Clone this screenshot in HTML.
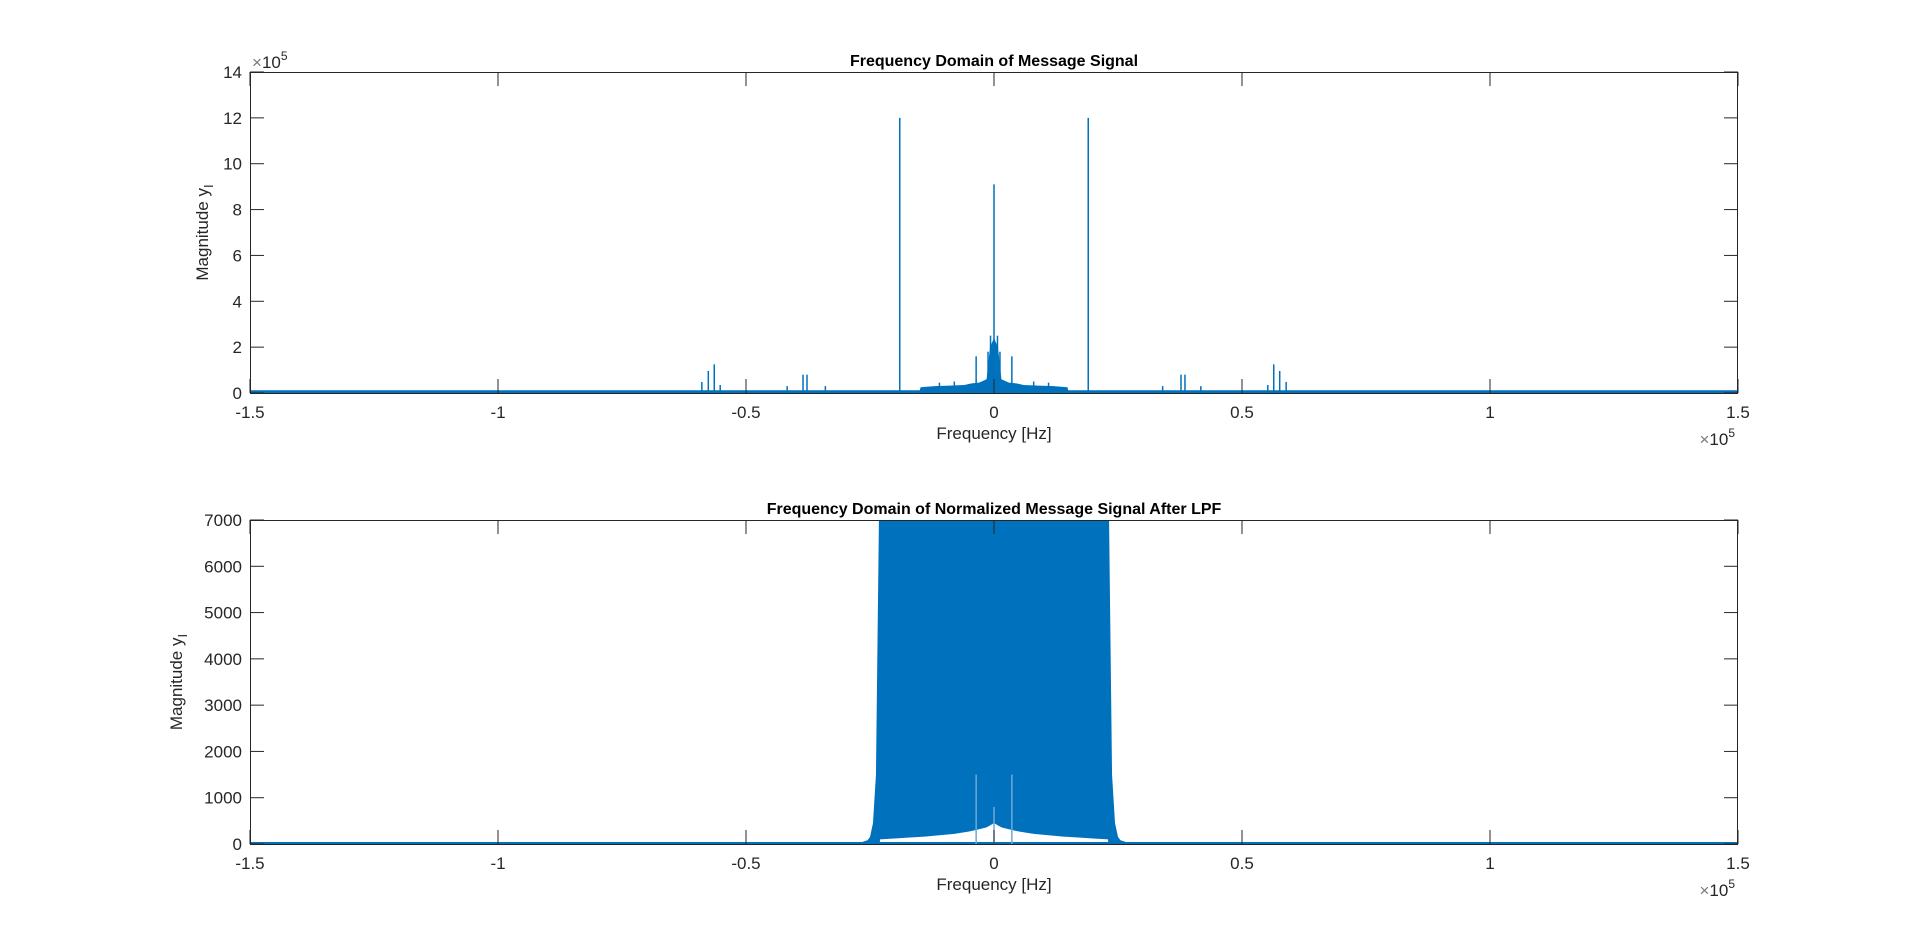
<!DOCTYPE html>
<html><head><meta charset="utf-8"><style>
html,body{margin:0;padding:0;background:#fff;}
svg{display:block;font-family:"Liberation Sans",Arial,sans-serif;}
</style></head><body>
<svg id="fig" width="1920" height="948" viewBox="0 0 1920 948"></svg>
<script>
// ---- data: top plot (Message signal spectrum) ----
const xTickVals = [-1.5, -1, -0.5, 0, 0.5, 1, 1.5];
const xTickLabels = ["-1.5", "-1", "-0.5", "0", "0.5", "1", "1.5"];
const topYTickVals = [0, 2, 4, 6, 8, 10, 12, 14];
const topYTickLabels = ["0", "2", "4", "6", "8", "10", "12", "14"];
const peakFreqs = [-19000, 19000, 0, -3600, 3600, -58900, -57600, -56400, -55200, 55200, 56400, 57600, 58900, -38500, -37700, 37700, 38500, -41700, -34000, 34000, 41700, -700, 700, -1200, 1200, -8000, 8000, -11000, 11000];
const peakMags = [12.0e5, 12.0e5, 9.1e5, 1.6e5, 1.6e5, 0.48e5, 0.96e5, 1.25e5, 0.35e5, 0.35e5, 1.25e5, 0.96e5, 0.48e5, 0.8e5, 0.8e5, 0.8e5, 0.8e5, 0.3e5, 0.3e5, 0.3e5, 0.3e5, 2.5e5, 2.5e5, 1.8e5, 1.8e5, 0.5e5, 0.5e5, 0.45e5, 0.45e5];
const humpFreqs = [-15000, -14800, -12000, -9000, -6000, -4500, -3000, -1500, -800, 0, 800, 1500, 3000, 4500, 6000, 9000, 12000, 14800, 15000];
const humpMags = [0.1e5, 0.25e5, 0.3e5, 0.32e5, 0.35e5, 0.42e5, 0.45e5, 0.6e5, 2.0e5, 2.4e5, 2.0e5, 0.6e5, 0.45e5, 0.42e5, 0.35e5, 0.32e5, 0.3e5, 0.25e5, 0.1e5];
const noiseFloor = 0.12e5;
// ---- data: bottom plot (after LPF) ----
const botYTickVals = [0, 1000, 2000, 3000, 4000, 5000, 6000, 7000];
const botYTickLabels = ["0", "1000", "2000", "3000", "4000", "5000", "6000", "7000"];
const skirtFreqs = [-30000, -27000, -25500, -25000, -24400, -23800, -23200, 23200, 23800, 24400, 25000, 25500, 27000, 30000];
const skirtMags = [0, 30, 80, 150, 450, 1500, 7000, 7000, 1500, 450, 150, 80, 30, 0];
const lowFreqs = [-23000, -20000, -17000, -14000, -11000, -8000, -5000, -3000, -1500, 0, 1500, 3000, 5000, 8000, 11000, 14000, 17000, 20000, 23000];
const lowMags = [100, 120, 140, 160, 190, 220, 270, 320, 360, 450, 360, 320, 270, 220, 190, 160, 140, 120, 100];
const lowSpikeFreqs = [-3600, 3600, 0];
const lowSpikeMags = [1500, 1500, 800];

const NS = "http://www.w3.org/2000/svg";
const svg = document.getElementById("fig");
const BLUE = "#0072bd";
function el(tag, attrs, parent) {
  const e = document.createElementNS(NS, tag);
  for (const k in attrs) e.setAttribute(k, attrs[k]);
  (parent || svg).appendChild(e);
  return e;
}
function txt(s, attrs, parent) { const t = el("text", attrs, parent); t.textContent = s; return t; }

const L = 250, R = 1738;
function xs(f) { return L + (f + 150000) / 300000 * (R - L); }

function axes(top, bot, yMax, yTickVals, yTickLabels, title, name, scaleLabel) {
  const g = el("g", {});
  
  
  const ys = v => bot - v / yMax * (bot - top);
  el("rect", {x: L, y: top, width: R - L, height: bot - top, fill: "#fff"}, g);
  return {g, ys, finish: function () {
    const fr = el("rect", {x: L + 0.5, y: top + 0.5, width: R - L - 1, height: bot - top, fill: "none", stroke: "#262626", "stroke-width": 1}, g);
    
    
    xTickVals.forEach((v, i) => {
      const x = xs(v * 1e5);
      el("line", {x1: x, x2: x, y1: bot, y2: bot - 14, stroke: "#262626"}, g);
      el("line", {x1: x, x2: x, y1: top, y2: top + 14, stroke: "#262626"}, g);
      const t = txt(xTickLabels[i], {x: x, y: bot + 25, "text-anchor": "middle", "font-size": 17, fill: "#262626"}, g);
      
      
    });
    yTickVals.forEach((v, i) => {
      const y = ys(v);
      el("line", {x1: L, x2: L + 14, y1: y, y2: y, stroke: "#262626"}, g);
      el("line", {x1: R, x2: R - 14, y1: y, y2: y, stroke: "#262626"}, g);
      const t = txt(yTickLabels[i], {x: L - 8, y: y + 6, "text-anchor": "end", "font-size": 17, fill: "#262626"}, g);
      
      
    });
    const tt = txt(title, {x: (L + R) / 2, y: top - 6, "text-anchor": "middle", "font-size": 16, "font-weight": "bold", fill: "#000"}, g);
    
    
    const xl = txt("Frequency [Hz]", {x: (L + R) / 2, y: bot + 46, "text-anchor": "middle", "font-size": 17, fill: "#262626"}, g);
    
    
    const yl = el("text", {transform: "translate(" + (L - (scaleLabel ? 42 : 68)) + "," + ((top + bot) / 2) + ") rotate(-90)", "text-anchor": "middle", "font-size": 17, fill: "#262626"}, g);
    yl.innerHTML = 'Magnitude y<tspan dy="5" font-size="13">I</tspan>';
    
    
    const xm = el("text", {x: R - 3, y: bot + 52, "text-anchor": "end", "font-size": 17, fill: "#262626"}, g);
    xm.innerHTML = '<tspan fill="#777">×</tspan>10<tspan dy="-8" font-size="12">5</tspan>';
    
    
    if (scaleLabel) {
      const ym = el("text", {x: L + 2, y: top - 4, "font-size": 17, fill: "#262626"}, g);
      ym.innerHTML = '<tspan fill="#777">×</tspan>10<tspan dy="-8" font-size="12">5</tspan>';
      
      
    }
  }};
}

// ---- top plot ----
const A = axes(72, 393, 14e5, topYTickVals.map(v => v * 1e5), topYTickLabels, "Frequency Domain of Message Signal", "top-plot", true);
const nf = el("rect", {x: L, y: A.ys(noiseFloor), width: R - L, height: 393 - A.ys(noiseFloor), fill: BLUE}, A.g);


let hp = "M" + xs(humpFreqs[0]) + "," + A.ys(0);
humpFreqs.forEach((f, i) => { hp += " L" + xs(f) + "," + A.ys(humpMags[i]); });
hp += " L" + xs(humpFreqs[humpFreqs.length - 1]) + "," + A.ys(0) + "Z";
const hump = el("path", {d: hp, fill: BLUE}, A.g);


peakFreqs.forEach((f, i) => {
  const ln = el("line", {x1: xs(f), x2: xs(f), y1: A.ys(0), y2: A.ys(peakMags[i]), stroke: BLUE, "stroke-width": 1.5}, A.g);
  
  
});
A.finish();

// ---- bottom plot ----
const B = axes(520, 844, 7000, botYTickVals, botYTickLabels, "Frequency Domain of Normalized Message Signal After LPF", "bottom-plot", false);
const bf = el("rect", {x: L, y: 842, width: R - L, height: 2, fill: BLUE}, B.g);


let sp = "M" + xs(skirtFreqs[0]) + "," + B.ys(0);
skirtFreqs.forEach((f, i) => { sp += " L" + xs(f) + "," + B.ys(skirtMags[i]); });
sp += "Z";
const band = el("path", {d: sp, fill: BLUE}, B.g);


let lp = "M" + xs(lowFreqs[0]) + "," + (B.ys(0) - 2);
lowFreqs.forEach((f, i) => { lp += " L" + xs(f) + "," + B.ys(lowMags[i]); });
lp += " L" + xs(lowFreqs[lowFreqs.length - 1]) + "," + (B.ys(0) - 2) + "Z";
const low = el("path", {d: lp, fill: "#fff"}, B.g);


lowSpikeFreqs.forEach((f, i) => {
  const ln = el("line", {x1: xs(f), x2: xs(f), y1: B.ys(0), y2: B.ys(lowSpikeMags[i]), stroke: "#6fa8d6", "stroke-width": 1.5}, B.g);
  
  
});
B.finish();
</script>
</body></html>
